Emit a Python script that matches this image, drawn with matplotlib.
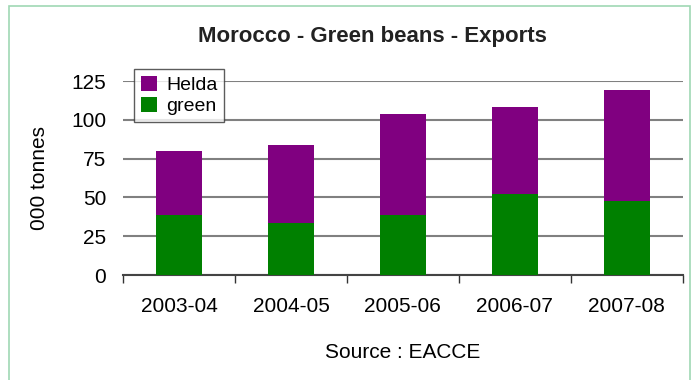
import matplotlib.pyplot as plt
import numpy as np
from matplotlib.patches import Rectangle

seasons = ['2003-04', '2004-05', '2005-06', '2006-07', '2007-08']
green = [38.5, 33.5, 38.5, 52.5, 47.5]
helda = [41.5, 50.0, 65.5, 55.5, 72.0]

plt.rcParams['font.family'] = ['Liberation Sans', 'DejaVu Sans']

fig = plt.figure(figsize=(6.94, 3.8), dpi=100)
ax = fig.add_axes([0.1772, 0.2763, 0.8068, 0.5105])

# light green frame around the whole chart
fig.patches.append(Rectangle((9 / 694, -0.01), 681 / 694, 1 - 6 / 380 + 0.01,
                             transform=fig.transFigure, fill=False,
                             edgecolor='#9fd8b4', linewidth=1.2))

x = np.arange(len(seasons))
width = 0.41
ax.bar(x, green, width, color='#008000', label='green', zorder=3)
ax.bar(x, helda, width, bottom=green, color='#800080', label='Helda', zorder=3)

ax.set_xlim(-0.5, len(seasons) - 0.5)
ax.set_ylim(0, 125)
ax.set_yticks([0, 25, 50, 75, 100, 125])
ax.yaxis.grid(True, color='#808080', linewidth=1.5, zorder=0)
ax.set_axisbelow(True)

ax.set_xticks(x)
ax.set_xticklabels(seasons)
ax.set_xticks(np.arange(-0.5, len(seasons)), minor=True)
ax.tick_params(axis='x', which='major', length=0, labelsize=15, pad=16)
ax.tick_params(axis='x', which='minor', length=6, width=1, color='#333333', direction='out')
ax.tick_params(axis='y', length=0, labelsize=15, pad=12)

for s in ['top', 'right', 'left']:
    ax.spines[s].set_visible(False)
ax.spines['bottom'].set_color('#444444')
ax.spines['bottom'].set_linewidth(1.5)

ax.set_ylabel('000 tonnes', fontsize=15, labelpad=16)
ax.set_xlabel('Source : EACCE', fontsize=15, labelpad=19)
fig.text(0.536, 0.905, 'Morocco - Green beans - Exports', ha='center', va='center',
         fontsize=16, fontweight='bold', color='#222222')

handles, labels = ax.get_legend_handles_labels()
leg = ax.legend(handles[::-1], labels[::-1], loc='upper left',
                bbox_to_anchor=(0.02, 1.06), fontsize=14, frameon=True,
                fancybox=False, edgecolor='#333333', handlelength=0.8,
                handleheight=0.8, handletextpad=0.5, borderpad=0.35,
                labelspacing=0.15, borderaxespad=0)
leg.get_frame().set_linewidth(1.0)

plt.savefig('out.png', dpi=100)
